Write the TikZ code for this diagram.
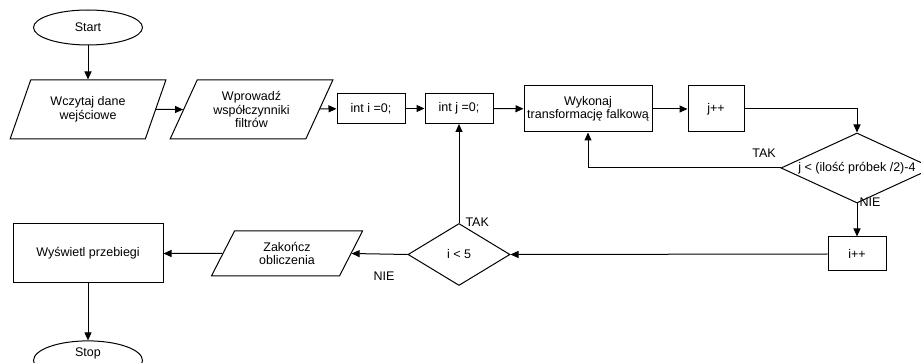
\documentclass[tikz,border=0pt]{standalone}
\usepackage{fontspec}
\setmainfont{Liberation Sans}
\usepackage{tikz}
\usetikzlibrary{positioning, shapes, arrows.meta}

\begin{document}
\begin{tikzpicture}[x=1pt, y=-1pt, line width=1pt,
    every node/.style={font=\fontsize{12.5}{13.5}\selectfont, align=center, inner sep=1pt},
    term/.style={draw, ellipse, minimum width=109pt, minimum height=35pt},
    io/.style={draw, trapezium, trapezium left angle=63, trapezium right angle=117, trapezium stretches=true},
    box/.style={draw, rectangle},
    dec/.style={draw, diamond, inner sep=0pt},
    lbl/.style={inner sep=0pt},
    >={Triangle[length=8pt, width=7pt]}]
        \useasboundingbox (0,0) rectangle (921,363);

        \node[term] (start) at (88,27.5) {Start};
        \node[io, minimum width=156pt, minimum height=59pt] (read) at (88,109.5) {Wczytaj dane\\wejściowe};
        \node[io, minimum width=163pt, minimum height=59pt] (coef) at (251.5,109.5) {Wprowadź\\współczynniki\\filtrów};
        \node[box, minimum width=68pt, minimum height=30pt] (inti) at (371,108.5) {int i =0;};
        \node[box, minimum width=68pt, minimum height=30pt] (intj) at (459,108.5) {int j =0;};
        \node[box, minimum width=128pt, minimum height=46pt] (wav) at (588,109) {Wykonaj\\transformację falkową};
        \node[box, minimum width=56pt, minimum height=46pt] (jpp) at (716,109) {j++};
        \node[dec, aspect=2.2, minimum width=152pt, minimum height=70pt] (condj) at (857,168) {j < (ilość próbek /2)-4};
        \node[box, minimum width=58pt, minimum height=34pt] (ipp) at (857,254) {i++};
        \node[dec, aspect=1.65, minimum width=102pt, minimum height=62pt] (condi) at (459,254.5) {i < 5};
        \node[io, minimum width=152pt, minimum height=45pt] (end) at (287,253.5) {Zakończ\\obliczenia};
        \node[box, minimum width=150pt, minimum height=59pt] (show) at (88,253.5) {Wyświetl przebiegi};
        \node[term, text depth=17pt] (stop) at (88,360.5) {Stop};

        % labels
        \node[lbl] (tak1) at (764,153) {TAK};
        \node[lbl, anchor=west] (nie1) at (859,202) {NIE};
        \node[lbl, anchor=west] (tak2) at (465,222) {TAK};
        \node[lbl] (nie2) at (384,276) {NIE};

        \draw[->] (start) -- (read);
        \draw[->] (read) -- (coef);
        \draw[->] (coef) -- (inti);
        \draw[->] (inti) -- (intj);
        \draw[->] (intj) -- (wav);
        \draw[->] (wav) -- (jpp);
        \draw[->] (jpp.east) -| (condj.north);
        \draw[->] (condj.west) -| (wav.south);
        \draw[->] (condj.south) -- (ipp.north);
        \draw[->] (ipp.west) -- (condi.east);
        \draw[->] (condi.north) -- (intj.south);
        \draw[->] (condi.west) -- (end.east);
        \draw[->] (end.west) -- (show.east);
        \draw[->] (show.south) -- (stop.north);
\end{tikzpicture}
\end{document}
